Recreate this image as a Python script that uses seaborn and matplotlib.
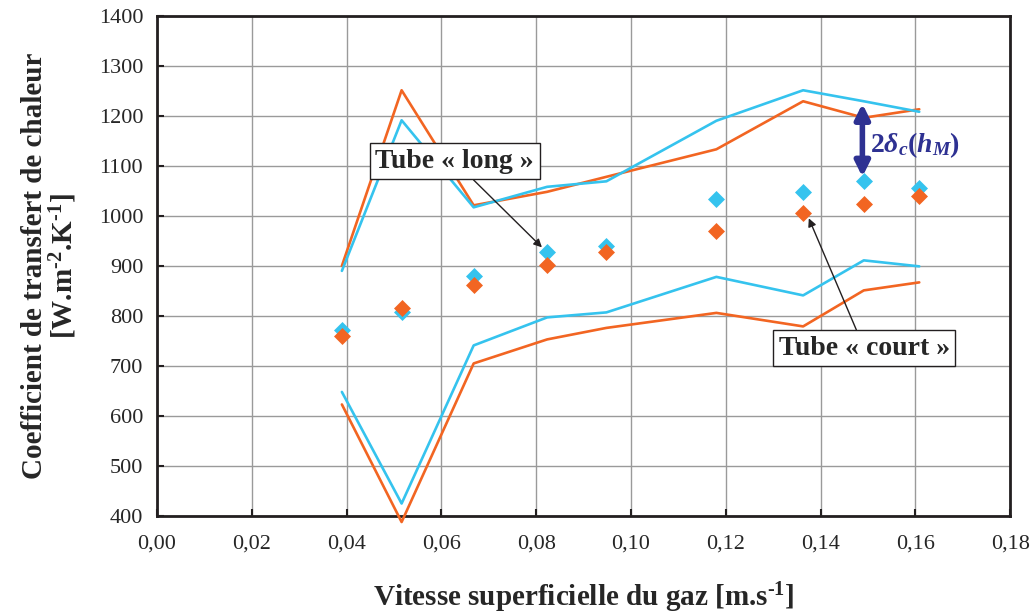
import numpy as np
import matplotlib
matplotlib.use("Agg")
import matplotlib.pyplot as plt
from matplotlib.ticker import FuncFormatter, MultipleLocator
import seaborn as sns

# superficial gas velocity [m/s]
vitesse = [0.039, 0.0516, 0.0668, 0.0823, 0.0948, 0.118, 0.1363, 0.1491, 0.1608]

# mean heat transfer coefficient, long and short tube
h_long = [771, 808, 880, 928, 940, 1033, 1047, 1069, 1056]
h_court = [759, 815, 861, 901, 927, 969, 1005, 1023, 1040]

# confidence band (upper / lower) for each tube
long_haut = [890, 1191, 1017, 1058, 1069, 1190, 1251, 1229, 1208]
long_bas = [648, 425, 741, 797, 807, 878, 841, 911, 899]
court_haut = [900, 1251, 1021, 1048, 1078, 1133, 1229, 1196, 1213]
court_bas = [623, 388, 705, 753, 776, 806, 779, 851, 867]

cyan = "#35C3EE"
orange = "#F26522"
navy = "#2E3192"

sns.set_style("white")
plt.rcParams["font.family"] = ["Liberation Serif", "DejaVu Serif"]
plt.rcParams["mathtext.fontset"] = "custom"
plt.rcParams["mathtext.rm"] = "Liberation Serif:bold"
plt.rcParams["mathtext.it"] = "Liberation Serif:bold:italic"
plt.rcParams["mathtext.bf"] = "Liberation Serif:bold"

fig, ax = plt.subplots(figsize=(10.33, 6.16), dpi=100)
fig.subplots_adjust(left=0.152, right=0.978, top=0.9745, bottom=0.1623)

# band lines
for y, c in [(court_haut, orange), (court_bas, orange), (long_haut, cyan), (long_bas, cyan)]:
    sns.lineplot(x=vitesse, y=y, color=c, lw=1.9, sort=False, estimator=None,
                 ax=ax, clip_on=False, zorder=3)

# measured points
sns.scatterplot(x=vitesse, y=h_long, marker="D", s=75, color=cyan, edgecolor=cyan,
                linewidth=0, ax=ax, zorder=4)
sns.scatterplot(x=vitesse, y=h_court, marker="D", s=75, color=orange, edgecolor=orange,
                linewidth=0, ax=ax, zorder=5)

ax.set_xlim(0, 0.18)
ax.set_ylim(400, 1400)
ax.xaxis.set_major_locator(MultipleLocator(0.02))
ax.yaxis.set_major_locator(MultipleLocator(100))
ax.xaxis.set_major_formatter(FuncFormatter(lambda v, p: f"{v:.2f}".replace(".", ",")))
ax.grid(True, color="#9a9a9a", lw=1.0)
ax.set_axisbelow(True)
for s in ax.spines.values():
    s.set_color("#231f20")
    s.set_linewidth(2)
ax.tick_params(axis="both", direction="in", length=5, width=1.5, color="#231f20",
               labelsize=16, pad=10, left=True, bottom=True)
ax.tick_params(axis="x", pad=13)

ax.set_xlabel(r"Vitesse superficielle du gaz [m.s$^{\text{-1}}$]", fontsize=21,
              fontweight="bold", labelpad=20)
ax.set_ylabel("Coefficient de transfert de chaleur\n" + r"[W.m$^{\text{-2}}$.K$^{\text{-1}}$]",
              fontsize=21, fontweight="bold", labelpad=14, linespacing=1.0)

box = dict(boxstyle="square,pad=0.2", fc="white", ec="#231f20", lw=1)
ax.annotate("Tube « long »", xy=(0.0812, 937), xytext=(0.0628, 1109),
            fontsize=20, fontweight="bold", ha="center", va="center", bbox=box,
            arrowprops=dict(arrowstyle="-|>", color="#231f20", lw=1, mutation_scale=12,
                            shrinkA=0, shrinkB=0), zorder=6)
ax.annotate("Tube « court »", xy=(0.1375, 995), xytext=(0.1492, 735),
            fontsize=20, fontweight="bold", ha="center", va="center", bbox=box,
            arrowprops=dict(arrowstyle="-|>", color="#231f20", lw=1, mutation_scale=12,
                            shrinkA=0, shrinkB=0), zorder=6)

# double arrow for the band width
ax.annotate("", xy=(0.1488, 1224), xytext=(0.1488, 1078),
            arrowprops=dict(arrowstyle="<|-|>", color=navy, lw=4, mutation_scale=22,
                            shrinkA=0, shrinkB=0), zorder=6)
ax.text(0.1504, 1141, r"2$\delta_c$($h_M$)", color=navy, fontsize=20,
        fontweight="bold", ha="left", va="center", zorder=6)

fig.savefig("out.png", dpi=100)
